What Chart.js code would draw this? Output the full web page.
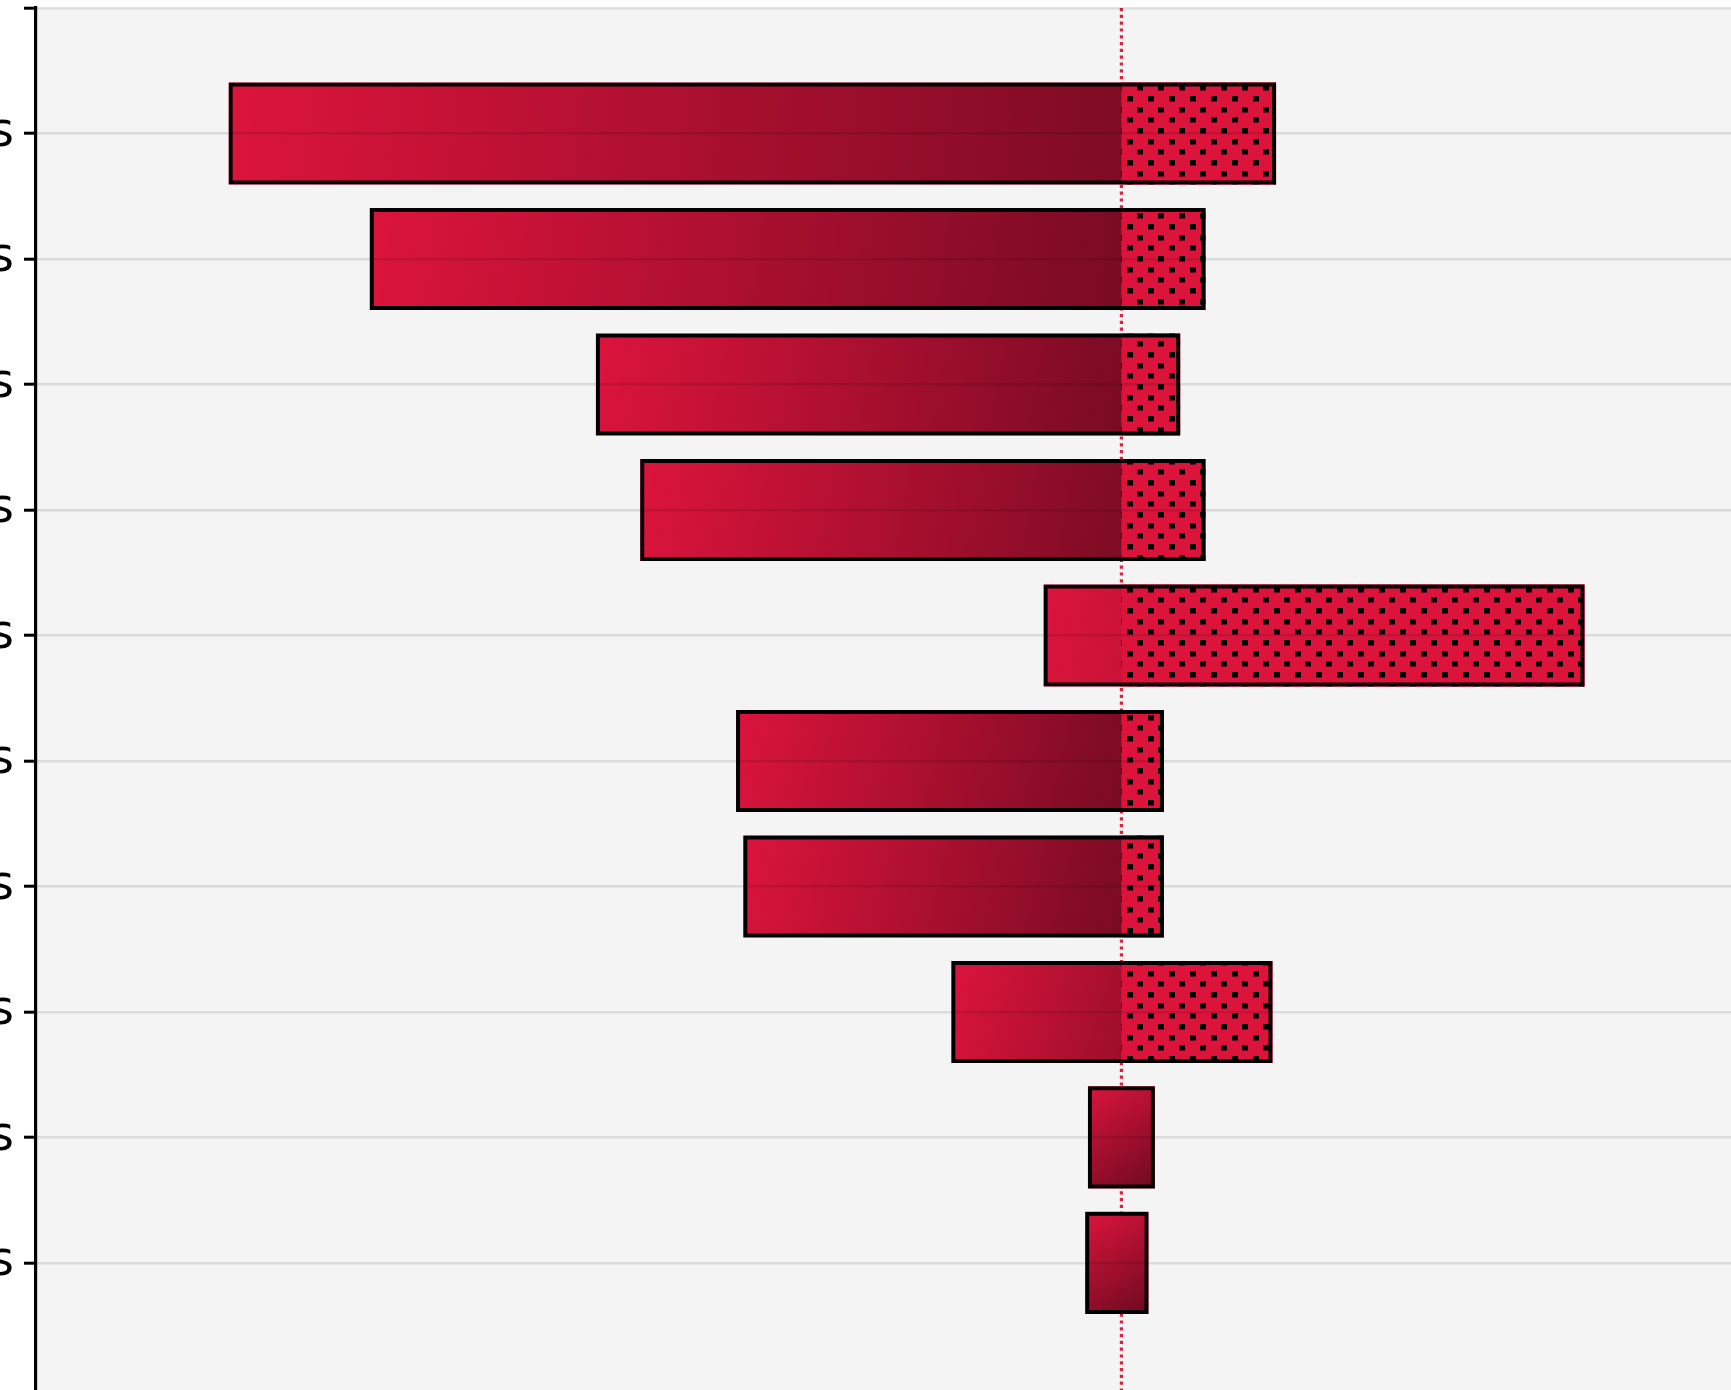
<!DOCTYPE html>
<html>
<head>
<meta charset="utf-8">
<title>Sensitivity</title>
<script src="https://cdn.jsdelivr.net/npm/chart.js@4.4.1/dist/chart.umd.min.js"></script>
<style>
    html, body { margin: 0; padding: 0; background: #ffffff; overflow: hidden; }
    body { width: 1731px; height: 1390px; position: relative; }
    #tornado { position: absolute; left: -564px; top: 0; }
</style>
</head>
<body>
<canvas id="tornado" width="2409" height="1426"></canvas>
<script>
// one row per driver, top to bottom
const factorNames = [
    "Raw material costs",
    "Labour rates",
    "Energy prices",
    "Sales volumes",
    "Interest rates",
    "Freight costs",
    "Exchange rates",
    "Tax allowances",
    "Overheads",
    "Maintenance costs"
];
const lowValues  = [-9.87, -8.31, -5.81, -5.32, -0.86, -4.26, -4.18, -1.88, -0.37, -0.40];
const highValues = [ 1.71,  0.93,  0.65,  0.93,  5.12,  0.47,  0.47,  1.67,  0.37,  0.30];
const dottedUpside = [true, true, true, true, true, true, true, true, false, false];

const xMin = -12;
const xMax = 8;
const barSize = 0.813;   // share of the row taken by a bar

const crimson = '#dc143c';
const darkRed = '#6e0a20';

// dotted fill for the upside part of each bar
function makeDots(){
    const tile = document.createElement("canvas");
    tile.width = 42;
    tile.height = 64;
    const t = tile.getContext("2d");
    t.fillStyle = crimson;
    t.fillRect(0, 0, 42, 64);
    t.fillStyle = '#000000';
    for(let r=0; r<6; r++){
        const y = Math.round(r*64/6);
        const off = (r%2===0) ? 0 : 10.5;
        for(let c=0; c<2; c++){
            t.fillRect(Math.round(off + c*21), y, 6, 5.5);
        }
    }
    return t.createPattern(tile, "repeat");
}

// gradient runs corner to corner over the whole bar
function barGradient(context){
    const chart = context.chart;
    const raw = context.raw;
    if(!chart.chartArea || !raw) return crimson;
    const xs = chart.scales.x;
    const ys = chart.scales.y;
    const x0 = xs.getPixelForValue(raw.x[0]);
    const x1 = xs.getPixelForValue(raw.x[1]);
    const yc = ys.getPixelForValue(raw.y);
    const half = Math.abs(ys.getPixelForValue(1) - ys.getPixelForValue(0)) * barSize / 2;
    const g = chart.ctx.createLinearGradient(x0, yc - half, x1, yc + half);
    g.addColorStop(0, crimson);
    g.addColorStop(1, darkRed);
    return g;
}

var fullBars = [];
var upsideBars = [];
for(let i=0; i<factorNames.length; i++){
    fullBars.push({x: [lowValues[i], highValues[i]], y: i+1});
    if(dottedUpside[i]){
        upsideBars.push({x: [0, highValues[i]], y: i+1});
    }
}

const plotBackground = {
    id: 'plotBackground',
    beforeDraw(chart){
        const a = chart.chartArea;
        const ctx = chart.ctx;
        ctx.save();
        ctx.fillStyle = '#f4f4f4';
        ctx.fillRect(a.left, a.top, a.right - a.left, a.bottom - a.top);
        ctx.restore();
    },
    beforeDatasetsDraw(chart){
        // dotted base line at zero, sits behind the bars
        const a = chart.chartArea;
        const ctx = chart.ctx;
        const x = chart.scales.x.getPixelForValue(0);
        ctx.save();
        ctx.strokeStyle = '#e0203f';
        ctx.lineWidth = 3.2;
        ctx.setLineDash([3.2, 3.6]);
        ctx.beginPath();
        ctx.moveTo(x, a.top);
        ctx.lineTo(x, a.bottom);
        ctx.stroke();
        ctx.restore();
    }
};

var ctx = document.getElementById("tornado").getContext("2d");
window.tornado = new Chart(ctx, {
    type: 'bar',
    data: {
        datasets: [{
            label: 'outline',
            data: fullBars,
            backgroundColor: 'rgba(0,0,0,0)',
            borderColor: '#000000',
            borderWidth: 4,
            borderSkipped: false,
            order: 0
        }, {
            label: 'upside',
            data: upsideBars,
            backgroundColor: makeDots(),
            borderWidth: 0,
            order: 1
        }, {
            label: 'range',
            data: fullBars,
            backgroundColor: barGradient,
            borderWidth: 0,
            order: 2
        }]
    },
    options: {
        indexAxis: 'y',
        responsive: false,
        animation: false,
        devicePixelRatio: 1,
        layout: { padding: { top: 8, left: 0, right: 0, bottom: 0 } },
        datasets: {
            bar: { grouped: false, categoryPercentage: 1, barPercentage: barSize }
        },
        plugins: {
            legend: { display: false },
            tooltip: { enabled: false }
        },
        scales: {
            x: {
                type: 'linear',
                min: xMin,
                max: xMax,
                offset: false,
                display: false
            },
            y: {
                type: 'linear',
                reverse: true,
                offset: false,
                min: 0,
                max: 11.3,
                afterBuildTicks: (scale) => {
                    scale.ticks = scale.ticks.filter(t => t.value <= factorNames.length);
                },
                afterFit: (scale) => {
                    scale.width = 600;
                    scale.paddingTop = 0;
                    scale.paddingBottom = 0;
                },
                ticks: {
                    stepSize: 1,
                    autoSkip: false,
                    padding: 10,
                    color: '#000000',
                    font: { family: 'DejaVu Sans', size: 48 },
                    callback: (v) => factorNames[v-1] || ''
                },
                grid: {
                    z: 1,
                    offset: false,
                    color: 'rgba(0,0,0,0.1)',
                    lineWidth: 2.4,
                    tickColor: '#000000',
                    tickWidth: 3,
                    tickLength: 12
                },
                // border has to come after the grid so its position is known
                border: { z: 1, color: '#000000', width: 3.2 }
            }
        }
    },
    plugins: [plotBackground]
});
</script>
</body>
</html>
